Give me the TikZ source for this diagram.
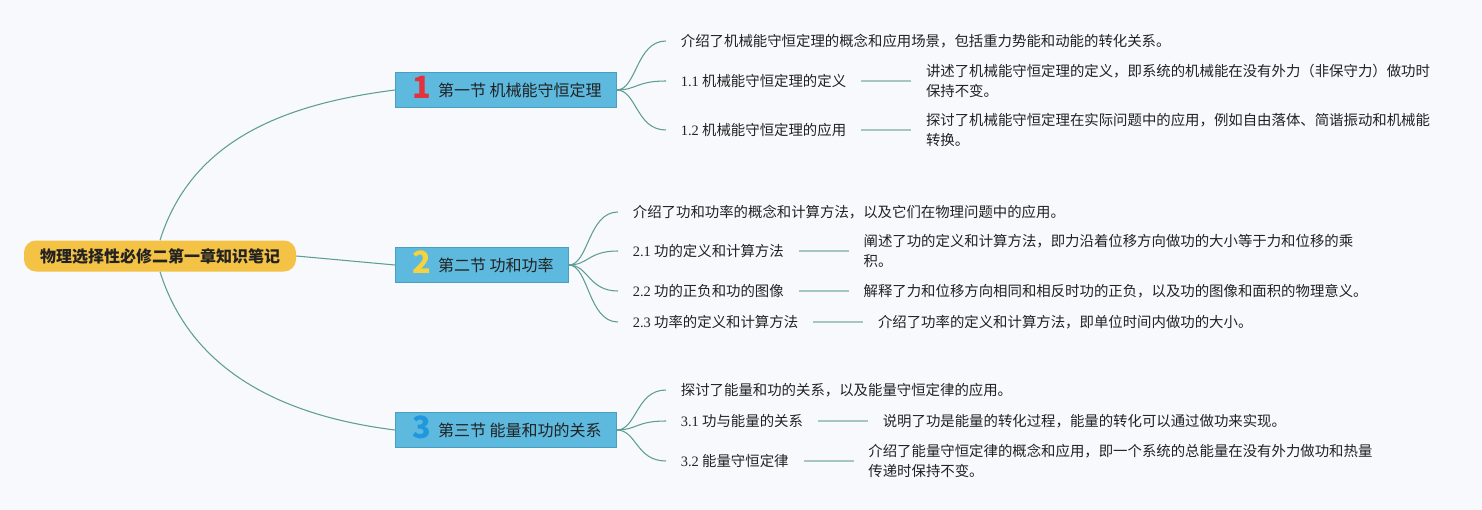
\documentclass[tikz,border=0pt]{standalone}
\usepackage{fontspec}
\usepackage{xcolor}
\usetikzlibrary{positioning}
\setmainfont{Noto Sans CJK SC}
\newfontfamily\numfont{Liberation Serif}
\definecolor{mapbg}{HTML}{F8F9FD}
\definecolor{mapink}{HTML}{222222}
\definecolor{rootfill}{HTML}{F4C245}
\definecolor{secfill}{HTML}{5DB9DE}
\definecolor{secline}{HTML}{4A9EC0}
\definecolor{branchline}{HTML}{5E9E95}
\definecolor{twigline}{HTML}{A5C6C1}
\definecolor{numred}{HTML}{E2333D}
\definecolor{numyellow}{HTML}{F6D33C}
\definecolor{numblue}{HTML}{2198DE}
\newcommand{\secnum}[2]{\makebox[18pt]{\smash{\raisebox{-1.6pt}{\color{#1}\fontsize{23}{23}\selectfont\bfseries #2}}}\hspace{3pt}}

\begin{document}
\begin{tikzpicture}[
  x=0.75pt,
  y=-0.75pt,
  every node/.style={font=\fontsize{10.8}{15}\selectfont, text=mapink},
  root/.style={fill=rootfill, rounded corners=9pt, inner xsep=12pt,
    minimum height=23.25pt, font=\fontsize{12}{14}\selectfont\bfseries},
  section/.style={fill=secfill, draw=secline, line width=0.6pt, anchor=west,
    inner xsep=11pt, minimum height=26.25pt, font=\fontsize{12}{14}\selectfont},
  leaf/.style={anchor=west, inner xsep=11pt, inner ysep=1pt, align=left},
  trunk/.style={branchline, line width=0.8pt},
  branch/.style={branchline, line width=0.8pt},
  twig/.style={twigline, line width=1.6pt},
  node distance=37.5pt
]
  % ---- page, 1482 x 510 px ----
  \path[fill=mapbg] (0,0) rectangle (1482,510);

  % ---- centre and sections ----
  \node[root] (root) at (160,256) {物理选择性必修二第一章知识笔记};
  \node[section] (s1) at (395,90) {\secnum{numred}{1}第一节 机械能守恒定理};
  \node[section] (s2) at (395,265) {\secnum{numyellow}{2}第二节 功和功率};
  \node[section] (s3) at (395,430) {\secnum{numblue}{3}第三节 能量和功的关系};

  \draw[trunk] (root.north) .. controls +(30,-95) and +(-120,15) .. (s1.west);
  \draw[trunk] (root.east) -- (s2.west);
  \draw[trunk] (root.south) .. controls +(30,95) and +(-120,-15) .. (s3.west);

  % ---- section 1 ----
  \node[leaf] (l1a) at (666,41) {介绍了机械能守恒定理的概念和应用场景，包括重力势能和动能的转化关系。};
  \node[leaf] (l1b) at (666,81) {{\numfont 1.1} 机械能守恒定理的定义};
  \node[leaf, right=of l1b] (d1b) {讲述了机械能守恒定理的定义，即系统的机械能在没有外力（非保守力）做功时\\保持不变。};
  \node[leaf] (l1c) at (666,130) {{\numfont 1.2} 机械能守恒定理的应用};
  \node[leaf, right=of l1c] (d1c) {探讨了机械能守恒定理在实际问题中的应用，例如自由落体、简谐振动和机械能\\转换。};

  % ---- section 2 ----
  \node[leaf] (l2a) at (618,212) {介绍了功和功率的概念和计算方法，以及它们在物理问题中的应用。};
  \node[leaf] (l2b) at (618,251) {{\numfont 2.1} 功的定义和计算方法};
  \node[leaf, right=of l2b] (d2b) {阐述了功的定义和计算方法，即力沿着位移方向做功的大小等于力和位移的乘\\积。};
  \node[leaf] (l2c) at (618,291) {{\numfont 2.2} 功的正负和功的图像};
  \node[leaf, right=of l2c] (d2c) {解释了力和位移方向相同和相反时功的正负，以及功的图像和面积的物理意义。};
  \node[leaf] (l2d) at (618,322) {{\numfont 2.3} 功率的定义和计算方法};
  \node[leaf, right=of l2d] (d2d) {介绍了功率的定义和计算方法，即单位时间内做功的大小。};

  % ---- section 3 ----
  \node[leaf] (l3a) at (666,390) {探讨了能量和功的关系，以及能量守恒定律的应用。};
  \node[leaf] (l3b) at (666,421) {{\numfont 3.1} 功与能量的关系};
  \node[leaf, right=of l3b] (d3b) {说明了功是能量的转化过程，能量的转化可以通过做功来实现。};
  \node[leaf] (l3c) at (666,461) {{\numfont 3.2} 能量守恒定律};
  \node[leaf, right=of l3c] (d3c) {介绍了能量守恒定律的概念和应用，即一个系统的总能量在没有外力做功和热量\\传递时保持不变。};

  % ---- branches from the sections ----
  \foreach \leafname in {l1a,l1b,l1c}
    \draw[branch] (s1.east) .. controls +(20,0) and +(-30,0) .. (\leafname.west);
  \foreach \leafname in {l2a,l2b,l2c,l2d}
    \draw[branch] (s2.east) .. controls +(20,0) and +(-30,0) .. (\leafname.west);
  \foreach \leafname in {l3a,l3b,l3c}
    \draw[branch] (s3.east) .. controls +(20,0) and +(-30,0) .. (\leafname.west);

  % ---- label to description ----
  \foreach \leafname/\descname in {l1b/d1b,l1c/d1c,l2b/d2b,l2c/d2c,l2d/d2d,l3b/d3b,l3c/d3c}
    \draw[twig] (\leafname.east) -- (\descname.west);
\end{tikzpicture}
\end{document}
